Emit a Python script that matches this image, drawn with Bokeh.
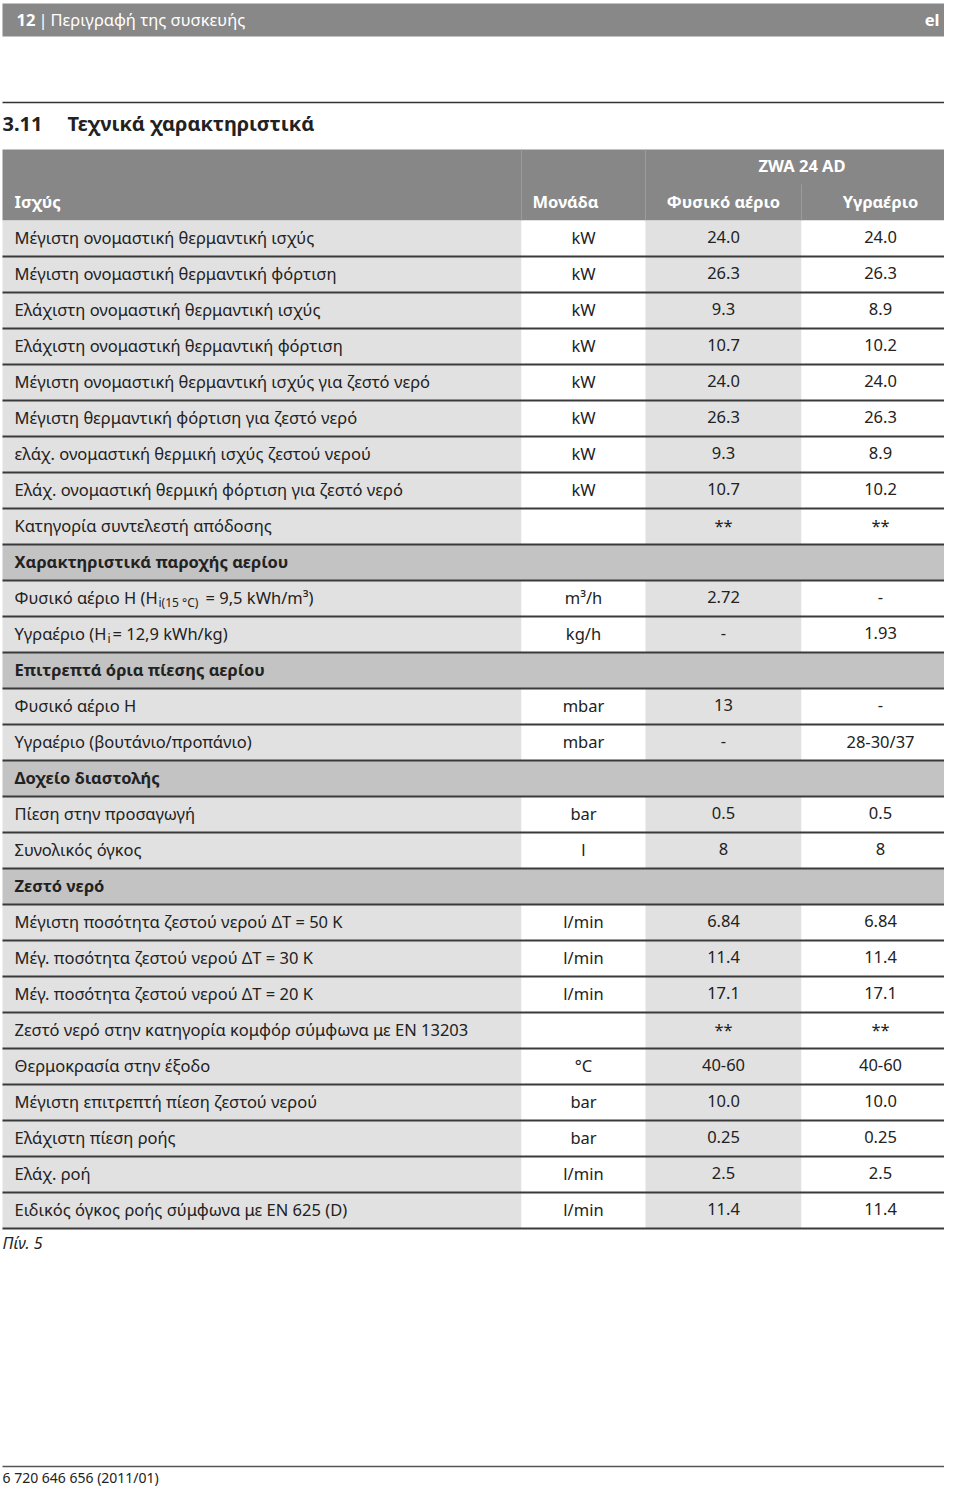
from bokeh.plotting import figure
from bokeh.models import Range1d, ColumnDataSource
from bokeh.core.properties import value
from bokeh.embed import file_html
from bokeh.resources import INLINE

# ---------------- data ----------------
page_number = "12"
page_title = "Περιγραφή της συσκευής"
language = "el"
section_number = "3.11"
section_title = "Τεχνικά χαρακτηριστικά"
model_name = "ZWA 24 AD"
header_labels = ["Ισχύς", "Μονάδα", "Φυσικό αέριο", "Υγραέριο"]

row_kinds = [
    "row", "row", "row", "row", "row", "row", "row", "row", "row",
    "section", "row", "row",
    "section", "row", "row",
    "section", "row", "row",
    "section", "row", "row", "row", "row", "row", "row", "row", "row", "row",
]
row_labels = [
    "Μέγιστη ονομαστική θερμαντική ισχύς",
    "Μέγιστη ονομαστική θερμαντική φόρτιση",
    "Ελάχιστη ονομαστική θερμαντική ισχύς",
    "Ελάχιστη ονομαστική θερμαντική φόρτιση",
    "Μέγιστη ονομαστική θερμαντική ισχύς για ζεστό νερό",
    "Μέγιστη θερμαντική φόρτιση για ζεστό νερό",
    "ελάχ. ονομαστική θερμική ισχύς ζεστού νερού",
    "Ελάχ. ονομαστική θερμική φόρτιση για ζεστό νερό",
    "Κατηγορία συντελεστή απόδοσης",
    "Χαρακτηριστικά παροχής αερίου",
    "Φυσικό αέριο H (H",
    "Υγραέριο (H",
    "Επιτρεπτά όρια πίεσης αερίου",
    "Φυσικό αέριο H",
    "Υγραέριο (βουτάνιο/προπάνιο)",
    "Δοχείο διαστολής",
    "Πίεση στην προσαγωγή",
    "Συνολικός όγκος",
    "Ζεστό νερό",
    "Μέγιστη ποσότητα ζεστού νερού ΔT = 50 K",
    "Μέγ. ποσότητα ζεστού νερού ΔT = 30 K",
    "Μέγ. ποσότητα ζεστού νερού ΔT = 20 K",
    "Ζεστό νερό στην κατηγορία  κομφόρ σύμφωνα με EN 13203",
    "Θερμοκρασία στην έξοδο",
    "Μέγιστη επιτρεπτή πίεση ζεστού νερού",
    "Ελάχιστη πίεση ροής",
    "Ελάχ. ροή",
    "Ειδικός όγκος ροής σύμφωνα με EN 625 (D)",
]
# subscript pieces and the text following them, for the two gas rows
label_subscripts = {10: "i(15 °C)", 11: "i"}
label_tails = {10: " = 9,5 kWh/m³)", 11: " = 12,9 kWh/kg)"}

row_units = [
    "kW", "kW", "kW", "kW", "kW", "kW", "kW", "kW", "",
    "", "m³/h", "kg/h",
    "", "mbar", "mbar",
    "", "bar", "l",
    "", "l/min", "l/min", "l/min", "", "°C", "bar", "bar", "l/min", "l/min",
]
natural_gas_values = [
    "24.0", "26.3", "9.3", "10.7", "24.0", "26.3", "9.3", "10.7", "**",
    "", "2.72", "-",
    "", "13", "-",
    "", "0.5", "8",
    "", "6.84", "11.4", "17.1", "**", "40-60", "10.0", "0.25", "2.5", "11.4",
]
lpg_values = [
    "24.0", "26.3", "8.9", "10.2", "24.0", "26.3", "8.9", "10.2", "**",
    "", "-", "1.93",
    "", "-", "28-30/37",
    "", "0.5", "8",
    "", "6.84", "11.4", "17.1", "**", "40-60", "10.0", "0.25", "2.5", "11.4",
]
caption = "Πίν. 5"
doc_code = "6 720 646 656 (2011/01)"

# ---------------- layout ----------------
FONT = value("Noto Sans")
FS = "16.5px"
TXT = "#222222"
X0, X1 = 2, 958
C1, C2, C3 = 521, 645, 801
TABLE_TOP = 220
ROW_H = 36
UNIT_X, NG_X, LPG_X = 583, 723, 880
LABEL_X = 14
DY = -1.5  # text centre offset within a row

p = figure(width=944, height=1489, x_range=Range1d(0, 944), y_range=Range1d(1489, 0),
           output_backend="svg", toolbar_location=None, min_border=0,
           x_axis_location=None, y_axis_location=None)
p.grid.visible = False
p.outline_line_color = None
p.background_fill_color = "white"
p.border_fill_color = "white"

# top bar
p.quad(left=[X0], right=[X1], top=[3], bottom=[36], fill_color="#888888", line_color=None)
p.text(x=[16], y=[19], text=[page_number], text_font=FONT, text_font_style="bold",
       text_font_size=FS, text_color="white", text_baseline="middle")
p.text(x=[38], y=[19], text=["|"], text_font=FONT, text_font_size=FS,
       text_color="white", text_baseline="middle")
p.text(x=[50], y=[19], text=[page_title], text_font=FONT, text_font_size=FS,
       text_color="white", text_baseline="middle")
p.text(x=[939], y=[19], text=[language], text_font=FONT, text_font_style="bold",
       text_font_size=FS, text_color="white", text_baseline="middle", text_align="right")

# section title
p.segment(x0=[X0], x1=[X1], y0=[102], y1=[102], line_color="#333333", line_width=1.5)
p.text(x=[2], y=[123], text=[section_number], text_font=FONT, text_font_style="bold",
       text_font_size="20px", text_color=TXT, text_baseline="middle")
p.text(x=[67], y=[123], text=[section_title], text_font=FONT, text_font_style="bold",
       text_font_size="20px", text_color=TXT, text_baseline="middle")

# table header
p.quad(left=[X0], right=[X1], top=[149], bottom=[TABLE_TOP], fill_color="#878787", line_color=None)
p.segment(x0=[C1, C2, C3], x1=[C1, C2, C3], y0=[149, 149, 184], y1=[TABLE_TOP] * 3,
          line_color="#9c9c9c", line_width=1)
p.text(x=[(C2 + X1) / 2], y=[165], text=[model_name], text_font=FONT, text_font_style="bold",
       text_font_size=FS, text_color="white", text_baseline="middle", text_align="center")
p.text(x=[LABEL_X], y=[201], text=[header_labels[0]], text_font=FONT, text_font_style="bold",
       text_font_size=FS, text_color="white", text_baseline="middle")
p.text(x=[565, NG_X, LPG_X], y=[201] * 3, text=header_labels[1:], text_font=FONT,
       text_font_style="bold", text_font_size=FS, text_color="white",
       text_baseline="middle", text_align="center")

# rows
n = len(row_labels)
tops = [TABLE_TOP + ROW_H * i for i in range(n)]
bots = [t + ROW_H for t in tops]
mids = [t + ROW_H / 2 + DY for t in tops]
rows = [i for i in range(n) if row_kinds[i] == "row"]
secs = [i for i in range(n) if row_kinds[i] == "section"]

for left, right, col in [(X0, C1, "#e1e1e1"), (C1, C2, "#ffffff"),
                         (C2, C3, "#e1e1e1"), (C3, X1, "#ffffff")]:
    p.quad(left=[left] * len(rows), right=[right] * len(rows),
           top=[tops[i] for i in rows], bottom=[bots[i] for i in rows],
           fill_color=col, line_color=None)
p.quad(left=[X0] * len(secs), right=[X1] * len(secs),
       top=[tops[i] for i in secs], bottom=[bots[i] for i in secs],
       fill_color="#c3c3c3", line_color=None)

p.segment(x0=[X0] * n, x1=[X1] * n, y0=bots, y1=bots, line_color="#3a3a3a", line_width=2)

src = ColumnDataSource(dict(
    y=[mids[i] for i in rows],
    label=[row_labels[i] for i in rows],
    unit=[row_units[i] for i in rows],
    ng=[natural_gas_values[i] for i in rows],
    lpg=[lpg_values[i] for i in rows],
))
common = dict(source=src, text_font=FONT, text_font_size=FS, text_color=TXT,
              text_baseline="middle")
p.text(x=LABEL_X, y="y", text="label", **common)
p.text(x=UNIT_X, y="y", text="unit", text_align="center", **common)
p.text(x=NG_X, y="y", text="ng", text_align="center", **common)
p.text(x=LPG_X, y="y", text="lpg", text_align="center", **common)

p.text(x=[LABEL_X] * len(secs), y=[mids[i] for i in secs], text=[row_labels[i] for i in secs],
       text_font=FONT, text_font_style="bold", text_font_size=FS, text_color=TXT,
       text_baseline="middle")

# subscript pieces
sub_x = {10: 158, 11: 107}
tail_x = {10: 205, 11: 112}
for i, sub in label_subscripts.items():
    p.text(x=[sub_x[i]], y=[mids[i] + 5], text=[sub], text_font=FONT, text_font_size="12px",
           text_color=TXT, text_baseline="middle")
    p.text(x=[tail_x[i]], y=[mids[i]], text=[label_tails[i]], text_font=FONT,
           text_font_size=FS, text_color=TXT, text_baseline="middle")

# caption and footer
p.text(x=[2], y=[bots[-1] + 14], text=[caption], text_font=FONT, text_font_style="italic",
       text_font_size="16px", text_color=TXT, text_baseline="middle")
p.segment(x0=[X0], x1=[X1], y0=[1466], y1=[1466], line_color="#555555", line_width=1.5)
p.text(x=[2], y=[1477], text=[doc_code], text_font=FONT, text_font_size="14px",
       text_color=TXT, text_baseline="middle")

open("out.html", "w").write(file_html(p, INLINE))
